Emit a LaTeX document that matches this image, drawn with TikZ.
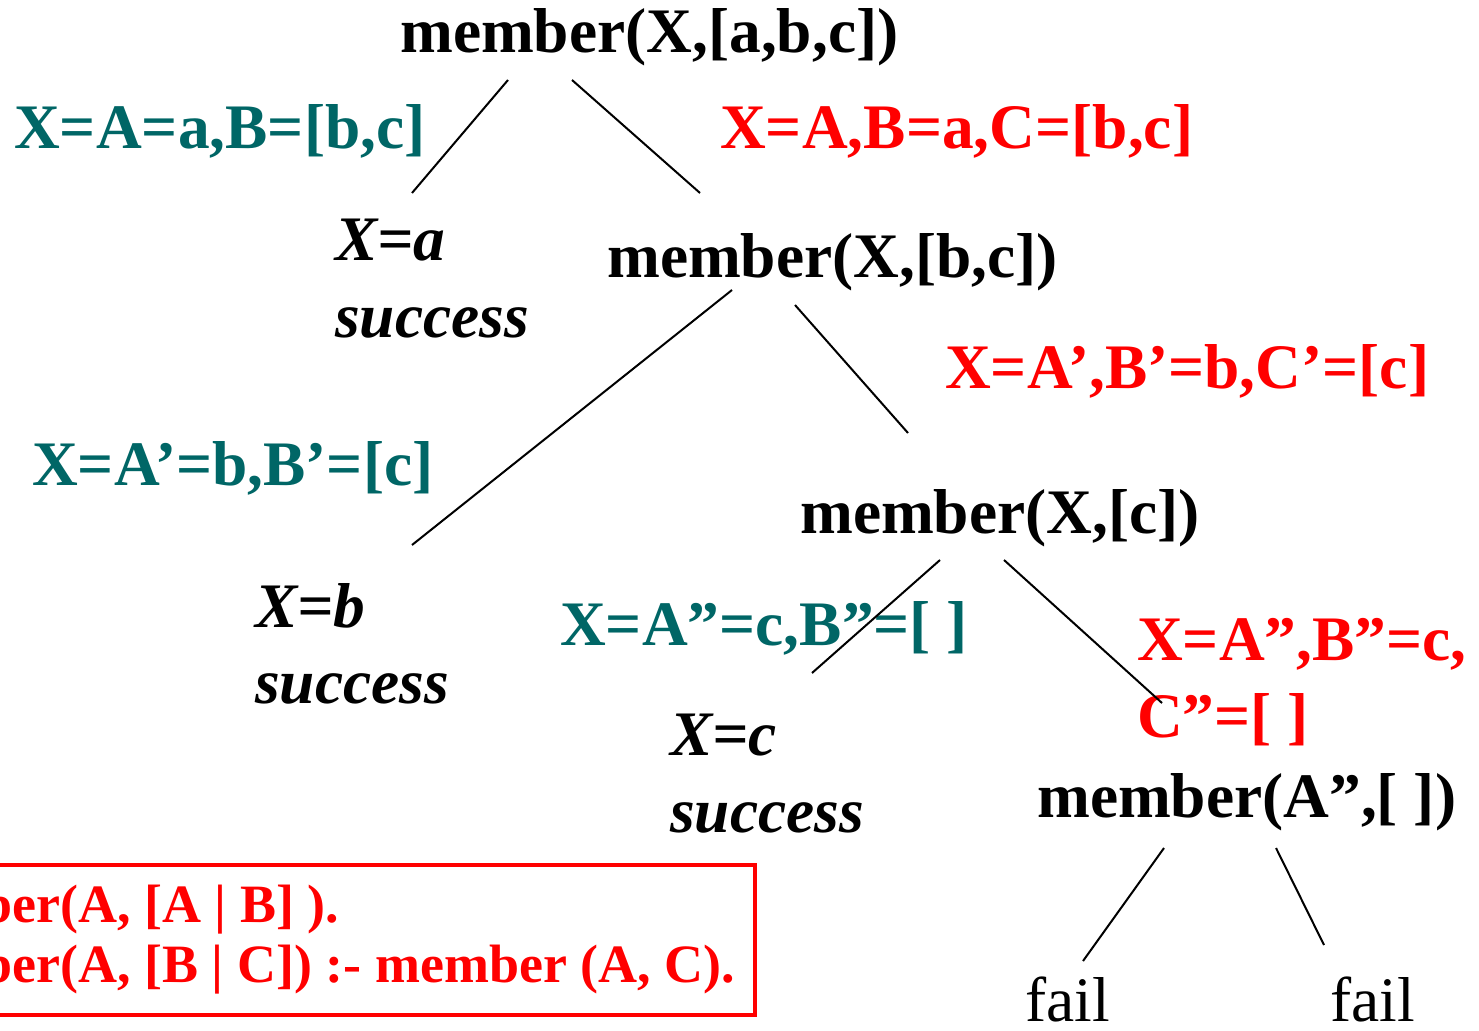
\documentclass[tikz,border=0pt]{standalone}
\usepackage{fontspec}
\setmainfont{Liberation Serif}
\definecolor{bindteal}{RGB}{0, 102, 102}
\definecolor{altred}{RGB}{255, 0, 0}
\usetikzlibrary{calc}
\tikzset{
	goal/.style={inner sep=0pt, anchor=base west, font=\fontsize{63.4}{76}\selectfont\bfseries},
	bind/.style={goal, text=bindteal},
	alt/.style={goal, text=altred},
	leaf/.style={goal, font=\fontsize{63.4}{76}\selectfont\bfseries\itshape},
	failnode/.style={inner sep=0pt, anchor=base west, font=\fontsize{63.4}{76}\selectfont},
	clausebox/.style={draw=altred, line width=3.5pt, outer sep=0pt, text=altred, align=left, inner xsep=20pt, inner ysep=0pt, minimum height=150pt, font=\fontsize{54}{60}\selectfont\bfseries},
	edge/.style={line width=2pt, draw=black},
}
\begin{document}
\begin{tikzpicture}[x=1pt, y=-1pt]
		\useasboundingbox (0,0) rectangle (1479,1030);
		\clip (0,0) rectangle (1479,1030);
		% goals
		\node[goal] (root) at (400,53) {member(X,[a,b,c])};
		\node[goal] (mbc) at (607,277) {member(X,[b,c])};
		\node[goal] (mc) at (800,533) {member(X,[c])};
		\node[goal] (ma) at (1037,817) {member(A”,[ ])};
		% bindings
		\node[bind] (bindA) at (14,148) {X=A=a,B=[b,c]};
		\node[alt] (altA) at (720,148) {X=A,B=a,C=[b,c]};
		\node[alt] (altB) at (945,388) {X=A’,B’=b,C’=[c]};
		\node[bind] (bindB) at (32,485) {X=A’=b,B’=[c]};
		\node[bind] (bindC) at (560,645) {X=A”=c,B”=[ ]};
		\node[alt] (altC) at (1137,660) {X=A”,B”=c,};
		\node[alt] (altCc) at (1137,737) {C”=[ ]};
		% leaves
		\node[leaf] (xa) at (335,260) {X=a};
		\node[leaf] (oka) at (335,337) {success};
		\node[leaf] (xb) at (255,627) {X=b};
		\node[leaf] (okb) at (255,703) {success};
		\node[leaf] (xc) at (670,755) {X=c};
		\node[leaf] (okc) at (670,832) {success};
		\node[failnode] (failA) at (1025,1021) {fail};
		\node[failnode] (failB) at (1330,1021) {fail};
		% program
		\node[clausebox, anchor=east] (prog) at (755,940) {member(A, [A | B] ).\\member(A, [B | C]) :- member (A, C).};
		% edges
		\draw[edge] ($(root.base west)+(108,27)$) -- ($(xa.base west)+(77,-67)$);
		\draw[edge] ($(root.base west)+(172,27)$) -- ($(mbc.base west)+(93,-84)$);
		\draw[edge] ($(mbc.base west)+(125,13)$) -- ($(xb.base west)+(157,-82)$);
		\draw[edge] ($(mbc.base west)+(188,28)$) -- ($(mc.base west)+(108,-100)$);
		\draw[edge] ($(mc.base west)+(140,27)$) -- ($(xc.base west)+(142,-82)$);
		\draw[edge] ($(mc.base west)+(204,27)$) -- ($(ma.base west)+(125,-114)$);
		\draw[edge] ($(ma.base west)+(127,31)$) -- ($(failA.base west)+(58,-60)$);
		\draw[edge] ($(ma.base west)+(239,31)$) -- ($(failB.base west)+(-6,-76)$);
	\end{tikzpicture}
\end{document}
